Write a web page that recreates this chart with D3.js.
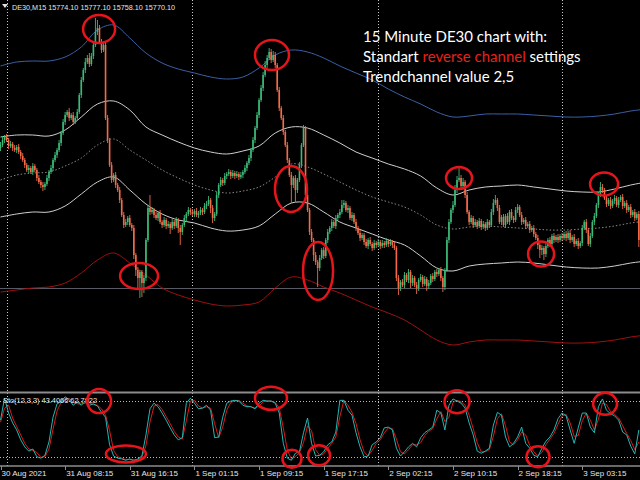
<!DOCTYPE html>
<html><head><meta charset="utf-8">
<script src="https://cdn.jsdelivr.net/npm/d3@7"></script>
<style>html,body{margin:0;padding:0;background:#000;overflow:hidden}</style>
</head><body><svg id="c" width="640" height="480"></svg>
<script>
// ---------- DATA ----------
const firstOpen = 15852;
const closes = [
15855,15860,15863,15860,15854,15856,15852,15850,15853,15848,
15844,15840,15835,15830,15832,15828,15834,15830,15822,15818,
15815,15813,15816,15822,15828,15832,15840,15845,15850,15857,
15867,15878,15885,15888,15882,15885,15878,15882,15888,15905,
15920,15930,15938,15942,15936,15944,15955,15968,15972,15958,
15950,15955,15882,15860,15835,15820,15825,15815,15810,15800,
15785,15775,15778,15782,15775,15772,15745,15730,15722,15728,
15717,15722,15760,15792,15788,15790,15785,15782,15787,15778,
15775,15780,15774,15776,15772,15778,15774,15780,15772,15768,
15775,15782,15786,15790,15788,15786,15789,15785,15787,15790,
15788,15794,15796,15800,15792,15782,15786,15805,15815,15820,
15817,15824,15826,15828,15824,15827,15824,15826,15823,15825,
15828,15832,15837,15842,15850,15860,15872,15885,15900,15912,
15925,15935,15942,15948,15940,15945,15935,15910,15892,15882,
15868,15855,15840,15825,15815,15822,15810,15820,15835,15855,
15872,15805,15790,15768,15760,15745,15738,15732,15742,15750,
15744,15760,15768,15772,15778,15774,15782,15785,15788,15795,
15797,15790,15792,15782,15785,15778,15772,15767,15762,15765,
15758,15754,15760,15756,15752,15757,15755,15758,15754,15757,
15755,15759,15756,15758,15755,15752,15722,15712,15718,15715,
15725,15720,15728,15717,15722,15715,15712,15720,15723,15716,
15721,15714,15717,15724,15721,15728,15726,15730,15722,15713,
15730,15760,15778,15790,15795,15810,15820,15822,15814,15818,
15805,15788,15778,15782,15775,15778,15774,15779,15773,15776,
15772,15778,15775,15788,15797,15800,15792,15778,15783,15775,
15784,15778,15788,15782,15780,15790,15793,15785,15778,15780,
15774,15776,15770,15772,15766,15762,15755,15750,15752,15746,
15754,15760,15756,15764,15760,15763,15760,15764,15762,15766,
15762,15767,15760,15763,15756,15759,15754,15757,15772,15778,
15770,15756,15764,15778,15784,15795,15805,15813,15810,15802,
15796,15800,15794,15799,15802,15795,15800,15803,15794,15797,
15790,15793,15785,15788,15782,15786,15760];
const wickUp = [
3,4,2,3,2,3,2,3,2,3, 2,3,2,2,3,2,3,2,2,3, 2,3,2,3,2,3,2,3,2,3, 2,3,3,2,4,2,3,2,3,2,
3,2,4,3,5,3,3,14,8,3, 3,4,2,3,2,3,2,3,2,3, 2,3,3,2,3,2,3,2,3,2, 2,3,2,3,13,3,2,3,2,3,
2,3,2,3,2,3,2,3,2,3, 2,3,2,3,2,3,2,3,2,3, 2,3,3,4,2,3,2,3,2,3, 2,3,2,3,2,3,2,3,2,3,
2,3,2,3,2,3,2,3,2,3, 3,4,3,4,3,4,3,2,3,2, 3,2,3,2,3,2,3,2,3,2, 3,2,3,2,3,2,3,2,3,2,
3,2,3,2,3,2,3,2,3,5, 3,2,3,2,3,2,3,2,3,2, 2,3,2,3,2,3,2,3,2,3, 2,3,2,3,2,3,2,3,2,3,
3,2,3,2,3,2,3,2,3,2, 3,2,3,2,3,2,3,2,3,2, 2,3,3,2,4,5,4,10,3,4, 2,3,2,3,2,3,2,3,2,3,
2,3,2,3,4,5,2,3,2,3, 2,3,2,3,2,3,3,2,3,2, 3,2,3,2,3,2,3,2,3,2, 3,2,3,2,3,2,3,2,3,2,
3,2,3,2,3,2,3,2,3,2, 3,2,3,2,3,2,3,5,3,2, 3,2,3,2,3,2,3,2,3,2, 3,2,3,2,3,2,3];
const wickDown = [
3,2,3,2,3,2,3,2,3,2, 3,2,3,2,3,2,3,2,3,2, 3,4,3,2,3,2,3,2,3,2, 3,2,3,2,3,2,3,2,3,2,
3,2,3,2,3,2,3,2,3,2, 3,2,2,3,2,3,2,3,2,3, 2,3,2,3,2,3,4,6,10,20, 14,10,3,2,3,2,3,2,3,2,
3,2,3,2,6,2,3,2,5,13, 3,2,3,2,3,2,3,2,3,2, 3,2,3,2,5,5,3,2,3,2, 3,2,3,2,3,2,3,2,3,2,
3,2,3,2,3,2,3,2,3,2, 3,2,3,2,3,2,3,2,3,2, 3,2,3,2,18,3,12,3,2,3, 2,3,2,3,2,6,3,19,3,2,
3,2,3,2,3,2,3,2,3,2, 3,2,3,2,3,2,3,2,3,2, 3,2,3,2,3,2,3,2,3,2, 3,2,3,2,3,2,3,7,3,2,
3,2,3,5,3,2,6,3,2,3, 2,5,3,2,3,2,3,2,3,5, 3,2,3,2,3,2,3,2,3,2, 3,2,3,2,3,2,3,2,3,2,
3,2,3,2,3,2,3,2,3,2, 3,2,3,2,3,2,3,2,3,2, 3,2,3,2,3,2,4,8,5,6, 3,2,3,2,3,2,3,2,3,2,
3,2,3,2,3,2,3,2,3,2, 3,2,3,2,3,2,3,2,3,2, 3,2,3,2,3,2,3,2,3,2, 3,2,3,2,3,2,7];

// channel bands, sampled every 8 bars
const bandBars = [0,8,16,24,32,40,48,56,64,72,80,88,96,104,112,120,128,136,144,152,160,168,176,184,192,200,208,216,224,232,240,248,256,264,272,280,288,296,304,312,320];
const bandBlue  = [15934,15938,15939,15939,15943,15953,15970,15975,15962,15947,15937,15931,15927,15923,15921,15923,15932,15945,15950,15948,15942,15934,15927,15920,15911,15903,15896,15888,15883,15884,15886,15886,15886,15885,15884,15883,15883,15884,15886,15889,15891];
const bandUpper = [15863,15865,15865,15864,15870,15883,15896,15899,15890,15873,15865,15858,15852,15848,15846,15849,15854,15867,15873,15872,15865,15857,15848,15842,15836,15831,15824,15812,15805,15810,15813,15814,15815,15813,15811,15809,15808,15808,15811,15815,15818];
const bandMid   = [15820,15825,15827,15828,15834,15842,15855,15861,15850,15840,15830,15822,15815,15810,15807,15809,15813,15823,15836,15833,15826,15818,15810,15803,15798,15793,15785,15775,15771,15773,15774,15773,15772,15771,15770,15770,15771,15772,15774,15777,15779];
const bandLower = [15783,15786,15788,15788,15794,15806,15818,15823,15810,15796,15786,15780,15777,15772,15769,15770,15774,15786,15797,15797,15788,15778,15772,15766,15760,15755,15744,15732,15729,15734,15736,15737,15738,15737,15735,15733,15732,15732,15734,15737,15739];
const bandRed   = [15708,15710,15712,15713,15717,15727,15740,15747,15737,15725,15712,15705,15700,15696,15694,15695,15698,15712,15723,15720,15713,15707,15700,15693,15687,15680,15670,15660,15655,15658,15660,15660,15660,15659,15658,15657,15657,15658,15660,15663,15665];
const priceLine = 15712;

// stochastic (12,3,3), one value every 2 bars
const stochMain = [
63,94,73,59,49,35,25,19,22,11, 9,13,32,67,86,89,96,92,84,89, 84,90,84,86,83,74,67,28,12,9,
8,6,8,5,8,12,42,79,87,82, 73,63,52,42,35,38,87,94,87,79, 80,84,77,38,39,67,87,90,91,90,
84,82,82,79,87,91,90,90,87,73, 30,9,6,16,18,45,66,30,12,13, 18,28,32,46,91,91,77,70,45,25,
11,12,28,32,38,52,53,49,23,12, 18,25,30,25,38,45,49,53,77,73, 49,84,93,90,87,80,59,42,19,16,
19,23,56,74,70,39,25,30,39,53, 30,23,13,11,23,33,39,49,65,73, 69,49,30,52,73,73,53,45,82,93,
77,72,69,63,46,42,26,15,49];
const stochSignal = [
60,80,84,66,54,42,30,22,20,17, 10,11,22,50,76,88,92,94,88,86, 86,87,87,85,84,79,70,48,20,11,
9,7,7,7,7,10,27,60,83,85, 78,68,58,47,39,36,62,90,91,83, 80,82,80,58,38,53,77,88,90,91,
87,83,82,80,83,89,90,90,88,80, 52,20,8,11,17,31,55,48,21,13, 15,23,30,39,68,91,84,74,58,35,
18,12,20,30,35,45,52,51,36,18, 15,21,28,28,31,41,47,51,65,75, 61,67,88,91,89,84,70,51,31,18,
18,21,40,65,72,55,32,28,35,46, 42,27,18,12,17,28,36,44,57,69, 71,59,40,41,62,73,63,49,64,87,
85,75,71,66,55,44,34,21,32];
const stochLevels = [90, 10];

const dayStartBars = [3, 95, 187, 278];
const tickBars = [0, 32, 64, 96, 128, 160, 192, 224, 256, 288];
const tickLabels = ["30 Aug 2021","31 Aug 08:15","31 Aug 16:15","1 Sep 01:15","1 Sep 09:15","1 Sep 17:15","2 Sep 02:15","2 Sep 10:15","2 Sep 18:15","3 Sep 03:15"];
const headerText = "DE30,M15  15774.10 15777.10 15758.10 15770.10";
const stochText = "Sto(12,3,3) 43.4066 62.7922";
const noteLines = [
  [["15 Minute DE30 chart with:", "#fff"]],
  [["Standart ", "#fff"], ["reverse channel", "#e8201e"], [" settings", "#fff"]],
  [["Trendchannel value ", "#fff"], ["2,5", "#fff"]]
];
// highlighted turning points: [bar, price] and [bar, stoch value]
const priceMarks = [[48.8,15971],[134.4,15945],[143.8,15811],[157.2,15729],[68.6,15724],[227,15822],[267.6,15746],[298.8,15816]];
const priceMarkR = [[16,14],[17,15],[16,23],[15,29],[19,13],[13,11],[13,12.5],[14,11.5]];
const stochMarks = [[48.8,90],[62.1,15],[133.9,94],[144.3,8],[157.7,13],[226,89],[266.1,11],[299.3,86]];
const stochMarkR = [[12,12],[20,8.5],[16,11.5],[9.5,9],[11,10],[12.5,11.5],[11.5,10.5],[12,11]];

// ---------- CHART ----------
const svg = d3.select("#c");
const W = 640;
svg.append("rect").attr("width",640).attr("height",480).attr("fill","#000");

const x = d3.scaleLinear().domain([0, 1]).range([0.5, 2.52]);
const y = d3.scaleLinear().domain([15610, 16000]).range([390, 0]);
const ys = d3.scaleLinear().domain([0, 100]).range([464.5, 394]);

const defs = svg.append("defs");
defs.append("clipPath").attr("id","cm").append("rect").attr("x",0).attr("y",0).attr("width",W).attr("height",391);
defs.append("clipPath").attr("id","cs").append("rect").attr("x",0).attr("y",394).attr("width",W).attr("height",71);

// vertical day separators
svg.append("g").selectAll("line").data(dayStartBars).join("line")
  .attr("x1", d => Math.round(x(d)) + 0.5).attr("x2", d => Math.round(x(d)) + 0.5)
  .attr("y1", 0).attr("y2", 466)
  .attr("stroke", "#c8c8c8").attr("stroke-width", 1).attr("stroke-dasharray", "1,2");

const gm = svg.append("g").attr("clip-path","url(#cm)");

// price line
gm.append("line").attr("x1",0).attr("x2",W).attr("y1",Math.round(y(priceLine))+0.5).attr("y2",Math.round(y(priceLine))+0.5)
  .attr("stroke","#5a5a66").attr("stroke-width",1);

// bands
const bandLine = arr => d3.line().x((d,i)=>x(bandBars[i])).y(d=>y(d)).curve(d3.curveCatmullRom)(arr);
gm.append("path").attr("d", bandLine(bandBlue)).attr("fill","none").attr("stroke","#3c5fa6").attr("stroke-width",1);
gm.append("path").attr("d", bandLine(bandUpper)).attr("fill","none").attr("stroke","#cfcfcf").attr("stroke-width",1);
gm.append("path").attr("d", bandLine(bandMid)).attr("fill","none").attr("stroke","#8a8a8a").attr("stroke-width",1).attr("stroke-dasharray","1.5,2");
gm.append("path").attr("d", bandLine(bandLower)).attr("fill","none").attr("stroke","#cfcfcf").attr("stroke-width",1);
gm.append("path").attr("d", bandLine(bandRed)).attr("fill","none").attr("stroke","#a01010").attr("stroke-width",1);

// candles
const opens = closes.map((c,i) => i === 0 ? firstOpen : closes[i-1]);
const candles = closes.map((c,i) => {
  const o = opens[i];
  return {i, o, c, h: Math.max(o,c) + wickUp[i], l: Math.min(o,c) - wickDown[i]};
});
const bull = "#3cba78", bear = "#f26b4a";
const gc = gm.append("g");
gc.selectAll("line").data(candles).join("line")
  .attr("x1", d => x(d.i)).attr("x2", d => x(d.i))
  .attr("y1", d => y(d.h)).attr("y2", d => y(d.l))
  .attr("stroke", d => d.c >= d.o ? bull : bear).attr("stroke-width", 0.9);
gc.selectAll("rect").data(candles).join("rect")
  .attr("x", d => x(d.i) - 0.8).attr("width", 1.6)
  .attr("y", d => y(Math.max(d.o,d.c)))
  .attr("height", d => Math.max(1, y(Math.min(d.o,d.c)) - y(Math.max(d.o,d.c))))
  .attr("fill", d => d.c >= d.o ? bull : bear);

// price marks
gm.append("g").selectAll("ellipse").data(priceMarks).join("ellipse")
  .attr("cx", d => x(d[0])).attr("cy", d => y(d[1]))
  .attr("rx", (d,i) => priceMarkR[i][0]).attr("ry", (d,i) => priceMarkR[i][1])
  .attr("fill","none").attr("stroke","#e8141c").attr("stroke-width",2.5);

// note text
const nt = svg.append("g").attr("font-family","Lato, 'Open Sans', sans-serif").attr("font-size",15);
noteLines.forEach((parts, li) => {
  const t = nt.append("text").attr("x", 363).attr("y", 42 + li*20);
  parts.forEach(p => t.append("tspan").attr("fill", p[1]).text(p[0]));
});

// header
svg.append("path").attr("d","M2,4 L8,4 L5,8 Z").attr("fill","#e0e0e0");
svg.append("text").attr("x",12).attr("y",10).attr("fill","#e6e6e6")
  .attr("font-family","'Liberation Sans', Arial, sans-serif").attr("font-size",8)
  .attr("textLength",163).attr("lengthAdjust","spacingAndGlyphs").text(headerText);

// separators
svg.append("line").attr("x1",0).attr("x2",W).attr("y1",392.5).attr("y2",392.5).attr("stroke","#8c8c8c").attr("stroke-width",2);
svg.append("line").attr("x1",0).attr("x2",W).attr("y1",466).attr("y2",466).attr("stroke","#8c8c8c").attr("stroke-width",1.5);

// stochastic
const gs = svg.append("g").attr("clip-path","url(#cs)");
gs.selectAll("line.lvl").data(stochLevels).join("line").attr("class","lvl")
  .attr("x1",0).attr("x2",W).attr("y1", d => Math.round(ys(d))+0.5).attr("y2", d => Math.round(ys(d))+0.5)
  .attr("stroke","#b8b8b8").attr("stroke-width",1).attr("stroke-dasharray","1,2");
const sLine = d3.line().x((d,i) => x(i*2)).y(d => ys(d));
gs.append("path").attr("d", sLine(stochSignal)).attr("fill","none").attr("stroke","#e01818").attr("stroke-width",1);
gs.append("path").attr("d", sLine(stochMain)).attr("fill","none").attr("stroke","#22b8b4").attr("stroke-width",1);
svg.append("text").attr("x",3).attr("y",403).attr("fill","#e6e6e6")
  .attr("font-family","'Liberation Sans', Arial, sans-serif").attr("font-size",8)
  .attr("textLength",94).attr("lengthAdjust","spacingAndGlyphs").text(stochText);
svg.append("g").selectAll("ellipse").data(stochMarks).join("ellipse")
  .attr("cx", d => x(d[0])).attr("cy", d => ys(d[1]))
  .attr("rx", (d,i) => stochMarkR[i][0]).attr("ry", (d,i) => stochMarkR[i][1])
  .attr("fill","none").attr("stroke","#e8141c").attr("stroke-width",2.5);

// time axis
const ga = svg.append("g");
ga.selectAll("line").data(tickBars).join("line")
  .attr("x1", d => Math.round(x(d))+0.5).attr("x2", d => Math.round(x(d))+0.5)
  .attr("y1", 466).attr("y2", 470).attr("stroke","#8c8c8c");
ga.selectAll("text").data(tickBars).join("text")
  .attr("x", d => x(d) + 1).attr("y", 476)
  .attr("fill","#e6e6e6").attr("font-family","'Liberation Sans', Arial, sans-serif").attr("font-size",8)
  .text((d,i) => tickLabels[i]);
</script></body></html>
